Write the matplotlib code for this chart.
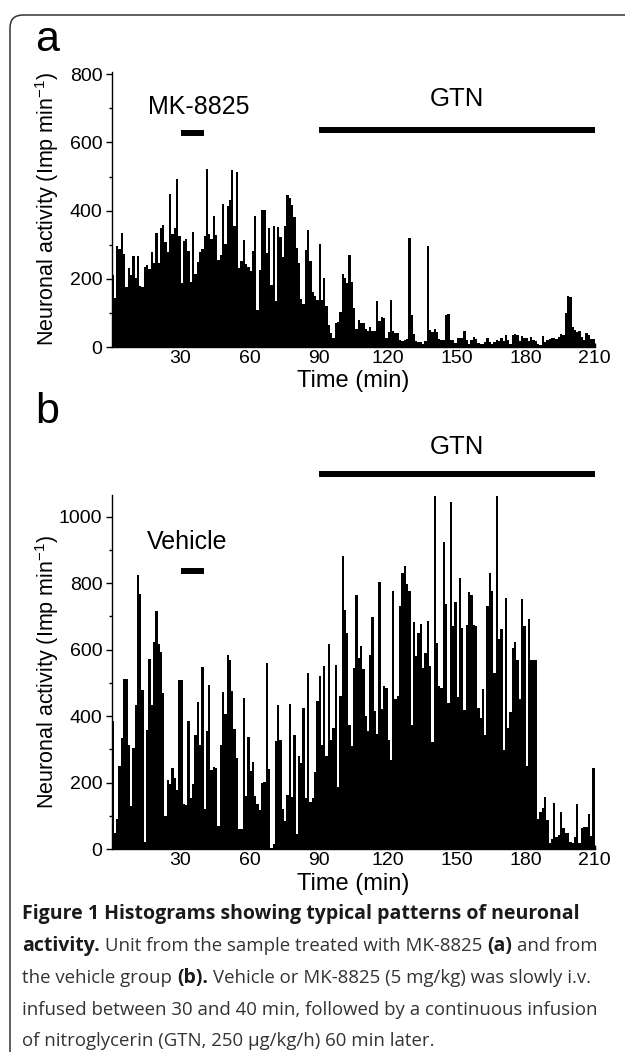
import numpy as np
import matplotlib
matplotlib.use('Agg')
from matplotlib import pyplot as plt
from matplotlib.patches import FancyBboxPatch

# neuronal activity per 1-min bin (Imp/min)
# (a) MK-8825 treated unit
act_a = [212, 144, 295, 287, 334, 274, 176, 232, 212, 266,
         203, 268, 180, 176, 235, 241, 229, 278, 245, 334,
         247, 349, 359, 307, 278, 449, 332, 349, 492, 327,
         188, 310, 317, 281, 190, 336, 215, 248, 278, 287,
         327, 521, 332, 317, 383, 329, 256, 271, 420, 303,
         414, 430, 518, 354, 512, 232, 251, 315, 242, 235,
         222, 281, 383, 108, 226, 402, 402, 275, 349, 181,
         354, 135, 353, 323, 263, 354, 446, 437, 417, 380,
         289, 245, 142, 125, 285, 344, 253, 160, 150, 138,
         303, 138, 201, 119, 64, 40, 25, 70, 74, 104,
         214, 201, 189, 270, 191, 114, 54, 79, 70, 69,
         52, 47, 59, 47, 47, 135, 76, 88, 86, 25,
         44, 138, 47, 40, 40, 20, 18, 21, 23, 319,
         93, 37, 18, 16, 15, 10, 18, 295, 49, 44,
         54, 44, 23, 21, 21, 94, 96, 21, 20, 11,
         25, 27, 27, 47, 21, 10, 20, 29, 23, 11,
         8, 8, 15, 27, 15, 8, 15, 20, 18, 25,
         18, 35, 20, 8, 35, 37, 35, 18, 32, 27,
         25, 18, 30, 21, 18, 8, 5, 32, 15, 20,
         23, 25, 27, 23, 30, 37, 34, 101, 150, 148,
         60, 49, 44, 47, 30, 21, 42, 34, 23, 23]

# (b) vehicle group unit
act_b = [385, 48, 90, 250, 335, 513, 513, 313, 131, 303,
         435, 825, 766, 480, 21, 358, 571, 435, 622, 715,
         618, 593, 471, 101, 208, 195, 245, 213, 178, 510,
         510, 135, 133, 385, 155, 195, 343, 443, 315, 548,
         121, 355, 493, 238, 248, 245, 71, 313, 473, 406,
         583, 568, 475, 361, 275, 61, 61, 456, 160, 338,
         235, 261, 160, 135, 118, 198, 203, 560, 241, 5,
         15, 325, 435, 330, 120, 85, 163, 438, 158, 345,
         45, 280, 260, 425, 155, 531, 143, 153, 233, 446,
         521, 313, 551, 280, 618, 328, 366, 555, 188, 460,
         883, 718, 651, 375, 311, 546, 763, 576, 610, 543,
         400, 356, 585, 698, 415, 348, 803, 423, 490, 485,
         330, 268, 775, 453, 460, 731, 830, 853, 798, 775,
         373, 683, 580, 650, 678, 545, 590, 685, 550, 323,
         1063, 620, 490, 486, 923, 736, 441, 1045, 670, 743,
         458, 815, 665, 420, 673, 773, 763, 673, 670, 425,
         395, 483, 345, 731, 831, 775, 530, 1063, 631, 661,
         298, 755, 365, 413, 605, 623, 570, 453, 753, 670,
         250, 693, 568, 568, 568, 90, 113, 125, 158, 88,
         18, 30, 138, 38, 43, 113, 63, 50, 50, 23,
         18, 38, 135, 18, 63, 68, 68, 106, 40, 243]

xticks = [30, 60, 90, 120, 150, 180, 210]
yticks_a = [0, 200, 400, 600, 800]
yticks_b = [0, 200, 400, 600, 800, 1000]
drug_span = [30, 40]
gtn_span = [90, 210]

caption = [
    [("Figure 1 Histograms showing typical patterns of neuronal", True)],
    [("activity.", True), ("Unit from the sample treated with MK-8825", False),
     ("(a)", True), ("and from", False)],
    [("the vehicle group", False), ("(b).", True),
     ("Vehicle or MK-8825 (5 mg/kg) was slowly i.v.", False)],
    [("infused between 30 and 40 min, followed by a continuous infusion", False)],
    [("of nitroglycerin (GTN, 250 \u00b5g/kg/h) 60 min later.", False)],
]

plt.rcParams['font.family'] = ['Liberation Sans', 'DejaVu Sans']
plt.rcParams['mathtext.fontset'] = 'custom'
plt.rcParams['mathtext.rm'] = 'Liberation Sans'
plt.rcParams['mathtext.it'] = 'Liberation Sans:italic'

W, H = 625, 1052
fig = plt.figure(figsize=(W / 100, H / 100), dpi=100)


def px_axes(x0, y0, x1, y1):
    # pixel box, origin top-left -> figure fraction
    return fig.add_axes([x0 / W, 1 - y1 / H, (x1 - x0) / W, (y1 - y0) / H])


def histo(ax, vals, ytop, yticks, xlab_y):
    edges = np.arange(len(vals) + 1)
    ax.stairs(vals, edges, fill=True, color='black', lw=0)
    ax.set_xlim(0, 210)
    ax.set_ylim(0, ytop)
    ax.set_xticks(xticks)
    ax.set_yticks(yticks)
    ax.set_yticks(np.arange(100, ytop, 200), minor=True)
    for s in ['top', 'right']:
        ax.spines[s].set_visible(False)
    for s in ['left', 'bottom']:
        ax.spines[s].set_linewidth(1.0)
    ax.tick_params(axis='y', which='major', direction='out', length=4, width=1.0,
                   labelsize=14, pad=2.5)
    ax.tick_params(axis='y', which='minor', direction='out', length=2.5, width=1.0)
    ax.tick_params(axis='x', which='major', direction='in', length=3, width=1.0,
                   labelsize=14, pad=2)
    ax.set_ylabel('Neuronal activity (Imp min$^{-1}$)', fontsize=15.5)
    ax.yaxis.set_label_coords(-0.104, 0.5)
    ax.set_xlabel('Time (min)', fontsize=17)
    ax.xaxis.set_label_coords(0.5, xlab_y)


# panel a
ax1 = px_axes(111.5, 71.5, 594.5, 347)
histo(ax1, act_a, 808, yticks_a, -0.083)
ax1.plot(drug_span, [629, 629], color='black', lw=4.3, solid_capstyle='butt', clip_on=False)
ax1.plot(gtn_span, [635, 635], color='black', lw=4.3, solid_capstyle='butt', clip_on=False)
ax1.text(38, 703, 'MK-8825', ha='center', va='center', fontsize=18)
ax1.text(150, 726, 'GTN', ha='center', va='center', fontsize=18.5)

# panel b
ax2 = px_axes(111.5, 495, 594.5, 849.3)
histo(ax2, act_b, 1065, yticks_b, -0.066)
ax2.plot(drug_span, [836, 836], color='black', lw=4.3, solid_capstyle='butt', clip_on=False)
ax2.plot(gtn_span, [1127, 1127], color='black', lw=4.3, solid_capstyle='butt', clip_on=False)
ax2.text(33, 924, 'Vehicle', ha='center', va='center', fontsize=18)
ax2.text(150, 1209, 'GTN', ha='center', va='center', fontsize=18.5)

fig.text(47 / W, 1 - 40 / H, 'a', ha='center', va='center', fontsize=31)
fig.text(47 / W, 1 - 412 / H, 'b', ha='center', va='center', fontsize=31)

# rounded frame around the figure
frame = FancyBboxPatch((0.10, -0.5), 8.0, 10.37 + 0.5,
                       boxstyle='round,pad=0,rounding_size=0.13',
                       transform=fig.dpi_scale_trans, fill=False,
                       ec='#333333', lw=1.1)
fig.add_artist(frame)

# caption with mixed bold / regular runs
r = fig.canvas.get_renderer()
cap_size = 13.4
bold_size = 14.0
sp_t = fig.text(0, 0, 'a a', fontsize=cap_size, family='Open Sans')
nsp_t = fig.text(0, 0, 'aa', fontsize=cap_size, family='Open Sans')
space = sp_t.get_window_extent(r).width - nsp_t.get_window_extent(r).width
sp_t.remove()
nsp_t.remove()
base_y = [919, 951, 983, 1015, 1046]
for line, by in zip(caption, base_y):
    x = 22
    for s, bold in line:
        t = fig.text(x / W, 1 - by / H, s, family='Open Sans',
                     fontsize=bold_size if bold else cap_size,
                     fontweight='bold' if bold else 'normal',
                     color='#1a1a1a' if bold else '#333333', va='baseline')
        x += t.get_window_extent(r).width + space

fig.savefig('out.png', dpi=100)
